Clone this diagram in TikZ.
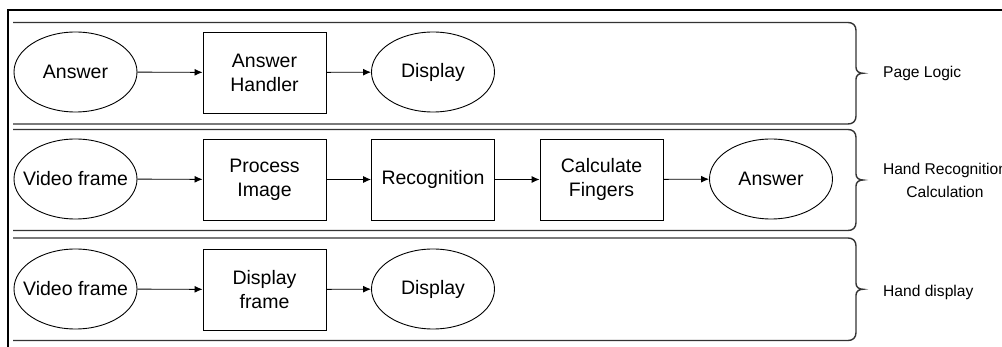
\documentclass[tikz,border=0pt]{standalone}
\usepackage{fontspec}
\setmainfont{Liberation Sans}
\usetikzlibrary{shapes.geometric,arrows.meta}

\tikzset{
  flow/.style={draw=black, line width=0.9pt, inner sep=0pt, align=center,
    font=\fontsize{19.5}{24}\selectfont},
  oval/.style={flow, ellipse, inner xsep=-14pt, minimum width=123pt, minimum height=80pt},
  stepbox/.style={flow, rectangle, minimum width=123pt, minimum height=81pt},
  link/.style={draw=black, line width=0.9pt, -{Latex[length=8pt,width=7pt]}},
  band/.style={draw=black!80, line width=1.4pt},
  frame/.style={draw=black, line width=1.4pt},
  tag/.style={font=\fontsize{15.6}{23}\selectfont, align=center, inner sep=0pt}
}

% one band: top and bottom rules joined by a right curly brace
\newcommand{\bandpath}[2]{%
  \pgfmathsetmacro{\bmid}{(#1+#2)/2}%
  \draw[band] (13,#1) -- (848,#1)
    .. controls (853,#1) and (856,#1+3) .. (856,#1+8)
    -- (856,\bmid-6)
    .. controls (856,\bmid-2) and (859,\bmid) .. (863,\bmid)
    .. controls (859,\bmid) and (856,\bmid+2) .. (856,\bmid+6)
    -- (856,#2-8)
    .. controls (856,#2-3) and (853,#2) .. (848,#2)
    -- (13,#2);}

\begin{document}
\begin{tikzpicture}[x=1pt,y=-1pt]
\useasboundingbox (0,0) rectangle (1002,347);
\clip (0,0) rectangle (1002,347);
\fill[white] (0,0) rectangle (1002,347);

% outer frame
\draw[frame] (8,352) -- (8,10) -- (1010,10);

% bands
\bandpath{22.5}{124}
\bandpath{129.5}{230.5}
\bandpath{238}{340.5}

% band labels
\node[tag, anchor=west] (lblA) at (883,73) {Page Logic};
\node[tag] (lblB) at (945,180) {Hand Recognition\\Calculation};
\node[tag, anchor=west] (lblC) at (883,292) {Hand display};

% page logic
\node[oval] (a1) at (75.5,72) {Answer};
\node[stepbox] (h1) at (264.5,72.5) {Answer\\Handler};
\node[oval] (d1) at (433,72) {Display};
\draw[link] (a1) -- (h1);
\draw[link] (h1) -- (d1);

% hand recognition calculation
\node[oval] (v2) at (75.5,179) {Video frame};
\node[stepbox] (p2) at (264.5,179.5) {Process\\Image};
\node[stepbox] (r2) at (433,179.5) {Recognition};
\node[stepbox] (c2) at (601.5,179.5) {Calculate\\Fingers};
\node[oval] (a2) at (771,179) {Answer};
\draw[link] (v2) -- (p2);
\draw[link] (p2) -- (r2);
\draw[link] (r2) -- (c2);
\draw[link] (c2) -- (a2);

% hand display
\node[oval] (v3) at (75.5,289) {Video frame};
\node[stepbox] (f3) at (264.5,289.5) {Display\\frame};
\node[oval] (d3) at (433,289) {Display};
\draw[link] (v3) -- (f3);
\draw[link] (f3) -- (d3);
\end{tikzpicture}
\end{document}
